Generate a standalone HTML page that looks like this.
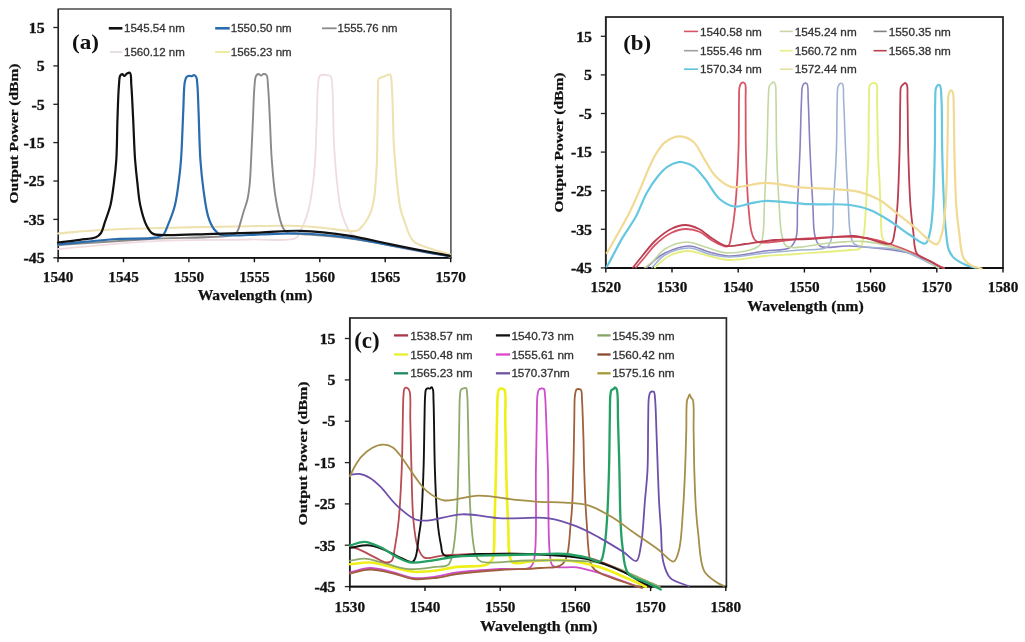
<!DOCTYPE html>
<html><head><meta charset="utf-8"><title>Output power spectra</title>
<style>html,body{margin:0;padding:0;background:#fff;overflow:hidden}svg{display:block;filter:blur(0.35px)}</style>
</head><body>
<svg width="1025" height="642" viewBox="0 0 1025 642">
<rect width="1025" height="642" fill="#fff"/>
<rect x="58.3" y="9.0" width="392.6" height="248.8" fill="none" stroke="#4a4a4a" stroke-width="1.50"/>
<line x1="57.8" y1="257.8" x2="451.4" y2="257.8" stroke="#111" stroke-width="1.8"/>
<line x1="58.3" y1="9.0" x2="58.3" y2="257.8" stroke="#222" stroke-width="1.4"/>
<line x1="53.3" y1="27.5" x2="58.3" y2="27.5" stroke="#222" stroke-width="1.3"/>
<text transform="translate(44.6,32.7) scale(1.130,1)" font-family='"Liberation Serif", serif' font-size="14.0" font-weight="bold" text-anchor="end" fill="#111" stroke="#111" stroke-width="0.35">15</text>
<line x1="53.3" y1="65.9" x2="58.3" y2="65.9" stroke="#222" stroke-width="1.3"/>
<text transform="translate(44.6,71.1) scale(1.130,1)" font-family='"Liberation Serif", serif' font-size="14.0" font-weight="bold" text-anchor="end" fill="#111" stroke="#111" stroke-width="0.35">5</text>
<line x1="53.3" y1="104.3" x2="58.3" y2="104.3" stroke="#222" stroke-width="1.3"/>
<text transform="translate(44.6,109.5) scale(1.130,1)" font-family='"Liberation Serif", serif' font-size="14.0" font-weight="bold" text-anchor="end" fill="#111" stroke="#111" stroke-width="0.35">-5</text>
<line x1="53.3" y1="142.6" x2="58.3" y2="142.6" stroke="#222" stroke-width="1.3"/>
<text transform="translate(44.6,147.8) scale(1.130,1)" font-family='"Liberation Serif", serif' font-size="14.0" font-weight="bold" text-anchor="end" fill="#111" stroke="#111" stroke-width="0.35">-15</text>
<line x1="53.3" y1="181.0" x2="58.3" y2="181.0" stroke="#222" stroke-width="1.3"/>
<text transform="translate(44.6,186.2) scale(1.130,1)" font-family='"Liberation Serif", serif' font-size="14.0" font-weight="bold" text-anchor="end" fill="#111" stroke="#111" stroke-width="0.35">-25</text>
<line x1="53.3" y1="219.4" x2="58.3" y2="219.4" stroke="#222" stroke-width="1.3"/>
<text transform="translate(44.6,224.6) scale(1.130,1)" font-family='"Liberation Serif", serif' font-size="14.0" font-weight="bold" text-anchor="end" fill="#111" stroke="#111" stroke-width="0.35">-35</text>
<line x1="53.3" y1="257.8" x2="58.3" y2="257.8" stroke="#222" stroke-width="1.3"/>
<text transform="translate(44.6,263.0) scale(1.130,1)" font-family='"Liberation Serif", serif' font-size="14.0" font-weight="bold" text-anchor="end" fill="#111" stroke="#111" stroke-width="0.35">-45</text>
<line x1="58.0" y1="257.8" x2="58.0" y2="262.3" stroke="#111" stroke-width="1.4"/>
<text x="58.0" y="281.8" font-family='"Liberation Serif", serif' font-size="15.0" font-weight="bold" text-anchor="middle" fill="#111" textLength="30.5" lengthAdjust="spacingAndGlyphs" stroke="#111" stroke-width="0.25">1540</text>
<line x1="123.5" y1="257.8" x2="123.5" y2="262.3" stroke="#111" stroke-width="1.4"/>
<text x="123.5" y="281.8" font-family='"Liberation Serif", serif' font-size="15.0" font-weight="bold" text-anchor="middle" fill="#111" textLength="30.5" lengthAdjust="spacingAndGlyphs" stroke="#111" stroke-width="0.25">1545</text>
<line x1="188.9" y1="257.8" x2="188.9" y2="262.3" stroke="#111" stroke-width="1.4"/>
<text x="188.9" y="281.8" font-family='"Liberation Serif", serif' font-size="15.0" font-weight="bold" text-anchor="middle" fill="#111" textLength="30.5" lengthAdjust="spacingAndGlyphs" stroke="#111" stroke-width="0.25">1550</text>
<line x1="254.4" y1="257.8" x2="254.4" y2="262.3" stroke="#111" stroke-width="1.4"/>
<text x="254.4" y="281.8" font-family='"Liberation Serif", serif' font-size="15.0" font-weight="bold" text-anchor="middle" fill="#111" textLength="30.5" lengthAdjust="spacingAndGlyphs" stroke="#111" stroke-width="0.25">1555</text>
<line x1="319.8" y1="257.8" x2="319.8" y2="262.3" stroke="#111" stroke-width="1.4"/>
<text x="319.8" y="281.8" font-family='"Liberation Serif", serif' font-size="15.0" font-weight="bold" text-anchor="middle" fill="#111" textLength="30.5" lengthAdjust="spacingAndGlyphs" stroke="#111" stroke-width="0.25">1560</text>
<line x1="385.2" y1="257.8" x2="385.2" y2="262.3" stroke="#111" stroke-width="1.4"/>
<text x="385.2" y="281.8" font-family='"Liberation Serif", serif' font-size="15.0" font-weight="bold" text-anchor="middle" fill="#111" textLength="30.5" lengthAdjust="spacingAndGlyphs" stroke="#111" stroke-width="0.25">1565</text>
<line x1="450.7" y1="257.8" x2="450.7" y2="262.3" stroke="#111" stroke-width="1.4"/>
<text x="450.7" y="281.8" font-family='"Liberation Serif", serif' font-size="15.0" font-weight="bold" text-anchor="middle" fill="#111" textLength="30.5" lengthAdjust="spacingAndGlyphs" stroke="#111" stroke-width="0.25">1570</text>
<path d="M58.0,249.0C88.7,246.4 118.7,242.9 150.0,241.3C182.6,239.6 223.1,240.2 250.0,239.5C268.3,239.0 289.1,242.0 296.0,238.0C298.9,236.3 298.9,233.5 300.3,231.0C301.8,228.2 303.3,225.4 304.6,222.0C306.2,218.0 307.5,213.8 308.8,208.5C310.5,201.3 312.0,191.1 313.1,182.8C314.1,175.0 314.5,168.8 315.1,160.0C315.9,148.1 316.3,131.1 316.8,118.0C317.2,106.6 317.2,93.6 318.0,86.0C318.4,81.7 318.4,77.6 319.6,76.0C320.2,75.2 321.1,75.0 322.0,74.8C322.9,74.6 324.0,74.9 325.0,75.0C326.0,75.1 327.0,75.0 328.0,75.2C329.0,75.4 330.1,75.6 330.8,76.5C332.0,78.1 331.9,81.9 332.3,86.0C333.0,93.5 333.0,108.3 333.3,118.0C333.5,126.0 333.5,132.8 333.8,140.0C334.1,146.8 334.5,153.1 335.0,160.0C335.6,167.4 336.2,175.0 337.1,182.8C338.0,191.1 338.9,201.4 340.5,208.5C341.7,213.8 343.0,217.8 344.8,222.0C346.5,226.0 348.1,230.6 350.8,233.3C353.3,235.7 355.7,236.4 360.0,238.0C368.5,241.2 385.9,245.0 400.0,248.0C415.7,251.3 433.3,253.7 450.0,256.6" stroke="#f0dbe0" stroke-width="1.80" fill="none" stroke-linejoin="round" stroke-linecap="round"/>
<path d="M58.0,233.5C72.0,232.3 85.4,230.9 100.0,230.0C115.9,229.1 130.5,228.8 150.0,228.3C177.6,227.5 224.2,226.6 250.0,226.2C266.3,225.9 277.6,225.5 290.0,225.8C300.7,226.0 310.0,226.6 320.0,227.5C329.9,228.4 343.7,230.7 349.6,231.0C352.1,231.1 353.4,231.3 355.0,231.0C356.3,230.8 357.4,230.5 358.5,229.8C359.8,229.0 360.9,227.7 362.0,226.5C363.2,225.2 364.4,223.6 365.5,222.0C366.6,220.4 367.6,218.7 368.5,217.0C369.4,215.2 370.3,213.5 371.0,211.5C371.8,209.2 372.4,206.6 373.0,204.0C373.6,201.1 374.2,198.2 374.6,195.0C375.1,191.3 375.3,187.5 375.6,182.8C376.1,176.4 376.7,168.8 377.0,160.0C377.4,148.1 377.4,130.6 377.6,118.0C377.7,107.7 377.8,97.2 378.0,90.0C378.2,85.5 377.5,80.9 378.6,79.0C379.2,78.0 380.1,77.9 381.0,77.5C381.9,77.1 383.0,76.9 384.0,76.5C385.1,76.1 386.4,75.3 387.5,75.0C388.4,74.7 389.5,74.0 390.2,74.5C391.6,75.5 391.4,81.2 391.8,86.0C392.5,94.0 392.7,108.3 393.0,118.0C393.3,126.0 393.3,132.8 393.6,140.0C393.9,146.8 394.5,153.1 395.0,160.0C395.6,167.4 396.1,175.0 397.0,182.8C397.9,191.1 398.8,201.4 400.4,208.5C401.6,213.8 402.8,217.2 404.7,222.0C406.9,227.9 408.8,236.6 413.3,241.0C417.5,245.2 424.1,246.3 430.0,248.5C436.3,250.8 443.3,252.5 450.0,254.5" stroke="#eee2b0" stroke-width="2.10" fill="none" stroke-linejoin="round" stroke-linecap="round"/>
<path d="M58.0,245.0C88.7,243.0 120.2,240.7 150.0,239.0C178.1,237.4 221.3,238.2 232.0,235.0C234.8,234.1 235.7,233.6 237.0,232.0C238.6,230.0 239.2,226.5 240.2,223.4C241.4,219.9 242.3,215.8 243.5,212.0C244.7,208.0 246.3,204.3 247.3,200.0C248.4,195.3 249.0,190.7 249.6,185.0C250.4,177.7 250.6,169.4 251.1,160.0C251.7,147.8 252.4,131.0 253.0,118.0C253.5,106.6 253.8,93.6 254.5,86.0C254.9,81.7 254.9,78.0 256.0,76.0C256.6,74.9 257.7,74.0 258.5,74.0C259.3,74.0 260.2,75.6 261.0,75.6C261.8,75.6 262.6,74.1 263.5,74.0C264.4,73.9 265.8,74.1 266.5,75.0C267.9,76.7 267.6,81.4 268.0,86.0C268.8,93.9 269.2,106.6 269.8,118.0C270.5,131.0 270.7,146.2 271.8,160.0C272.8,173.5 273.8,187.9 276.0,200.0C277.8,210.3 280.2,223.0 283.2,228.3C284.7,230.8 285.8,232.0 288.0,233.0C290.9,234.3 294.6,233.5 300.0,234.0C311.0,234.9 333.4,236.3 350.0,238.5C366.7,240.7 383.3,244.0 400.0,247.0C416.7,250.0 433.3,253.3 450.0,256.5" stroke="#8a8a8a" stroke-width="1.90" fill="none" stroke-linejoin="round" stroke-linecap="round"/>
<path d="M58.0,244.5C77.5,242.7 98.9,240.1 116.5,239.0C130.8,238.1 147.8,239.2 155.6,237.7C159.1,237.0 161.0,236.8 163.0,235.0C165.4,232.8 166.5,228.5 168.2,224.4C170.5,218.9 173.2,211.9 175.0,204.9C177.0,197.1 178.0,187.4 179.0,179.5C179.9,172.6 180.4,168.0 181.0,160.0C182.0,147.2 182.6,124.3 183.3,110.0C183.8,99.3 183.7,87.5 184.8,82.0C185.3,79.6 185.6,78.0 186.5,77.0C187.2,76.3 188.1,75.9 189.0,75.8C189.8,75.7 190.7,76.3 191.5,76.2C192.3,76.1 193.2,75.1 194.0,75.2C194.8,75.3 195.7,76.1 196.2,77.0C197.1,78.5 197.0,80.9 197.3,84.0C197.9,89.9 198.1,99.9 198.5,110.0C199.1,124.0 199.4,145.6 200.4,160.0C201.2,171.1 202.1,179.7 203.4,189.3C204.7,198.6 205.9,209.3 208.2,216.6C209.8,221.8 211.8,226.2 214.1,229.3C215.9,231.6 217.4,233.4 220.0,234.5C223.4,235.9 228.3,235.4 233.6,235.5C241.0,235.6 250.3,234.8 260.0,234.5C272.0,234.1 285.9,233.1 300.0,233.5C315.8,234.0 334.5,235.7 350.0,237.8C363.7,239.7 375.7,242.6 388.6,245.0C401.6,247.4 416.4,250.3 427.6,252.3C436.1,253.8 442.5,254.8 450.0,256.0" stroke="#2a6cae" stroke-width="2.20" fill="none" stroke-linejoin="round" stroke-linecap="round"/>
<path d="M58.0,242.5C65.3,241.6 73.3,240.7 80.0,239.8C85.8,239.0 92.3,239.0 96.0,237.3C98.3,236.2 99.6,235.0 101.0,233.0C102.8,230.4 103.4,226.4 104.8,222.4C106.5,217.3 109.0,211.2 110.5,205.0C112.1,198.2 112.9,190.8 113.9,183.4C114.9,175.8 115.7,168.9 116.3,160.0C117.1,148.1 117.0,131.5 117.5,118.5C117.9,107.0 118.2,93.8 118.9,86.0C119.3,81.5 119.1,77.2 120.3,75.5C120.9,74.6 121.8,74.1 122.5,74.2C123.2,74.3 123.6,76.0 124.3,76.0C125.1,76.0 126.0,74.1 127.0,73.6C127.9,73.1 129.3,72.3 130.0,72.8C131.5,73.8 130.9,79.9 131.3,85.0C132.0,93.3 132.5,106.3 133.1,118.0C133.8,131.2 134.2,148.1 135.1,160.0C135.8,168.8 136.5,175.4 137.4,183.0C138.2,190.4 138.7,197.9 140.2,205.0C141.7,211.9 143.8,219.9 146.3,225.0C148.1,228.6 149.7,231.8 152.5,233.5C155.4,235.2 158.4,234.8 163.4,235.1C174.1,235.7 197.5,234.2 214.0,233.8C229.7,233.4 245.2,233.1 260.0,232.6C273.8,232.1 285.9,230.4 300.0,230.8C315.8,231.2 334.5,233.4 350.0,235.8C363.8,237.9 375.7,241.3 388.6,243.9C401.6,246.6 416.4,249.6 427.6,251.7C436.1,253.3 442.5,254.4 450.0,255.8" stroke="#111111" stroke-width="2.20" fill="none" stroke-linejoin="round" stroke-linecap="round"/>
<line x1="108.8" y1="28.3" x2="122.4" y2="28.3" stroke="#111" stroke-width="2.6"/>
<text x="124.0" y="32.4" font-family='"Liberation Sans", sans-serif' font-size="11.6" font-weight="normal" text-anchor="start" fill="#333" textLength="60.9" lengthAdjust="spacingAndGlyphs" stroke="#333" stroke-width="0.30">1545.54 nm</text>
<line x1="215.2" y1="28.3" x2="229.7" y2="28.3" stroke="#2a6cae" stroke-width="2.6"/>
<text x="230.8" y="32.4" font-family='"Liberation Sans", sans-serif' font-size="11.6" font-weight="normal" text-anchor="start" fill="#333" textLength="60.9" lengthAdjust="spacingAndGlyphs" stroke="#333" stroke-width="0.30">1550.50 nm</text>
<line x1="322.0" y1="28.3" x2="336.6" y2="28.3" stroke="#8a8a8a" stroke-width="1.8"/>
<text x="337.6" y="32.4" font-family='"Liberation Sans", sans-serif' font-size="11.6" font-weight="normal" text-anchor="start" fill="#333" textLength="60.0" lengthAdjust="spacingAndGlyphs" stroke="#333" stroke-width="0.30">1555.76 nm</text>
<line x1="109.8" y1="52.0" x2="122.4" y2="52.0" stroke="#e4dcdc" stroke-width="1.8"/>
<text x="124.0" y="56.1" font-family='"Liberation Sans", sans-serif' font-size="11.6" font-weight="normal" text-anchor="start" fill="#333" textLength="60.9" lengthAdjust="spacingAndGlyphs" stroke="#333" stroke-width="0.30">1560.12 nm</text>
<line x1="215.2" y1="52.0" x2="229.7" y2="52.0" stroke="#e8ea9a" stroke-width="1.8"/>
<text x="230.8" y="56.1" font-family='"Liberation Sans", sans-serif' font-size="11.6" font-weight="normal" text-anchor="start" fill="#333" textLength="60.9" lengthAdjust="spacingAndGlyphs" stroke="#333" stroke-width="0.30">1565.23 nm</text>
<text x="72.0" y="49.2" font-family='"Liberation Serif", serif' font-size="21.5" font-weight="bold" text-anchor="start" fill="#111" textLength="27.0" lengthAdjust="spacingAndGlyphs">(a)</text>
<text x="255.0" y="300.2" font-family='"Liberation Serif", serif' font-size="15.5" font-weight="bold" text-anchor="middle" fill="#111" textLength="114.7" lengthAdjust="spacingAndGlyphs" stroke="#111" stroke-width="0.25">Wavelength (nm)</text>
<g transform="translate(17.9,133.5) rotate(-90)">
<text x="0.0" y="0.0" font-family='"Liberation Serif", serif' font-size="13.2" font-weight="bold" text-anchor="middle" fill="#111" textLength="140.0" lengthAdjust="spacingAndGlyphs" stroke="#111" stroke-width="0.25">Output Power (dBm)</text>
</g>
<rect x="605.8" y="17.0" width="397.2" height="251.0" fill="none" stroke="#2a2a2a" stroke-width="1.80"/>
<line x1="605.3" y1="268.0" x2="1003.5" y2="268.0" stroke="#111" stroke-width="1.8"/>
<line x1="605.8" y1="17.0" x2="605.8" y2="268.0" stroke="#222" stroke-width="1.4"/>
<line x1="600.8" y1="36.3" x2="605.8" y2="36.3" stroke="#222" stroke-width="1.3"/>
<text transform="translate(592.0,41.5) scale(1.130,1)" font-family='"Liberation Serif", serif' font-size="14.0" font-weight="bold" text-anchor="end" fill="#111" stroke="#111" stroke-width="0.35">15</text>
<line x1="600.8" y1="74.9" x2="605.8" y2="74.9" stroke="#222" stroke-width="1.3"/>
<text transform="translate(592.0,80.1) scale(1.130,1)" font-family='"Liberation Serif", serif' font-size="14.0" font-weight="bold" text-anchor="end" fill="#111" stroke="#111" stroke-width="0.35">5</text>
<line x1="600.8" y1="113.5" x2="605.8" y2="113.5" stroke="#222" stroke-width="1.3"/>
<text transform="translate(592.0,118.7) scale(1.130,1)" font-family='"Liberation Serif", serif' font-size="14.0" font-weight="bold" text-anchor="end" fill="#111" stroke="#111" stroke-width="0.35">-5</text>
<line x1="600.8" y1="152.1" x2="605.8" y2="152.1" stroke="#222" stroke-width="1.3"/>
<text transform="translate(592.0,157.3) scale(1.130,1)" font-family='"Liberation Serif", serif' font-size="14.0" font-weight="bold" text-anchor="end" fill="#111" stroke="#111" stroke-width="0.35">-15</text>
<line x1="600.8" y1="190.7" x2="605.8" y2="190.7" stroke="#222" stroke-width="1.3"/>
<text transform="translate(592.0,195.9) scale(1.130,1)" font-family='"Liberation Serif", serif' font-size="14.0" font-weight="bold" text-anchor="end" fill="#111" stroke="#111" stroke-width="0.35">-25</text>
<line x1="600.8" y1="229.3" x2="605.8" y2="229.3" stroke="#222" stroke-width="1.3"/>
<text transform="translate(592.0,234.5) scale(1.130,1)" font-family='"Liberation Serif", serif' font-size="14.0" font-weight="bold" text-anchor="end" fill="#111" stroke="#111" stroke-width="0.35">-35</text>
<line x1="600.8" y1="267.9" x2="605.8" y2="267.9" stroke="#222" stroke-width="1.3"/>
<text transform="translate(592.0,273.1) scale(1.130,1)" font-family='"Liberation Serif", serif' font-size="14.0" font-weight="bold" text-anchor="end" fill="#111" stroke="#111" stroke-width="0.35">-45</text>
<line x1="605.8" y1="268.0" x2="605.8" y2="272.5" stroke="#111" stroke-width="1.4"/>
<text x="605.8" y="292.0" font-family='"Liberation Serif", serif' font-size="15.0" font-weight="bold" text-anchor="middle" fill="#111" textLength="30.5" lengthAdjust="spacingAndGlyphs" stroke="#111" stroke-width="0.25">1520</text>
<line x1="672.0" y1="268.0" x2="672.0" y2="272.5" stroke="#111" stroke-width="1.4"/>
<text x="672.0" y="292.0" font-family='"Liberation Serif", serif' font-size="15.0" font-weight="bold" text-anchor="middle" fill="#111" textLength="30.5" lengthAdjust="spacingAndGlyphs" stroke="#111" stroke-width="0.25">1530</text>
<line x1="738.2" y1="268.0" x2="738.2" y2="272.5" stroke="#111" stroke-width="1.4"/>
<text x="738.2" y="292.0" font-family='"Liberation Serif", serif' font-size="15.0" font-weight="bold" text-anchor="middle" fill="#111" textLength="30.5" lengthAdjust="spacingAndGlyphs" stroke="#111" stroke-width="0.25">1540</text>
<line x1="804.4" y1="268.0" x2="804.4" y2="272.5" stroke="#111" stroke-width="1.4"/>
<text x="804.4" y="292.0" font-family='"Liberation Serif", serif' font-size="15.0" font-weight="bold" text-anchor="middle" fill="#111" textLength="30.5" lengthAdjust="spacingAndGlyphs" stroke="#111" stroke-width="0.25">1550</text>
<line x1="870.6" y1="268.0" x2="870.6" y2="272.5" stroke="#111" stroke-width="1.4"/>
<text x="870.6" y="292.0" font-family='"Liberation Serif", serif' font-size="15.0" font-weight="bold" text-anchor="middle" fill="#111" textLength="30.5" lengthAdjust="spacingAndGlyphs" stroke="#111" stroke-width="0.25">1560</text>
<line x1="936.8" y1="268.0" x2="936.8" y2="272.5" stroke="#111" stroke-width="1.4"/>
<text x="936.8" y="292.0" font-family='"Liberation Serif", serif' font-size="15.0" font-weight="bold" text-anchor="middle" fill="#111" textLength="30.5" lengthAdjust="spacingAndGlyphs" stroke="#111" stroke-width="0.25">1570</text>
<line x1="1003.0" y1="268.0" x2="1003.0" y2="272.5" stroke="#111" stroke-width="1.4"/>
<text x="1003.0" y="292.0" font-family='"Liberation Serif", serif' font-size="15.0" font-weight="bold" text-anchor="middle" fill="#111" textLength="30.5" lengthAdjust="spacingAndGlyphs" stroke="#111" stroke-width="0.25">1580</text>
<path d="M655.0,267.5C657.3,265.3 659.4,263.0 662.0,261.0C664.7,258.8 667.3,256.6 671.0,255.0C675.8,252.9 682.9,250.9 689.0,251.0C695.5,251.1 702.3,254.5 709.0,256.0C715.6,257.5 721.3,259.7 729.0,260.0C739.2,260.4 753.1,257.1 765.0,256.0C776.7,255.0 787.3,254.6 800.0,253.7C815.2,252.6 839.7,251.2 850.0,250.0C854.6,249.5 857.7,250.5 860.0,248.5C862.7,246.1 862.8,239.8 863.7,234.7C864.8,228.8 865.0,222.5 865.5,215.0C866.2,205.0 866.7,190.0 867.2,180.0C867.6,172.4 868.0,168.5 868.3,160.0C868.8,145.4 868.6,113.0 869.0,100.0C869.2,93.7 868.6,88.7 869.6,86.0C870.1,84.7 870.7,84.0 871.5,83.5C872.2,83.1 873.2,82.9 874.0,83.0C874.8,83.1 875.9,83.1 876.5,84.0C878.0,86.1 876.8,93.0 877.0,100.0C877.4,113.6 877.7,145.4 878.3,160.0C878.6,168.5 879.1,172.4 879.5,180.0C880.0,190.0 880.2,204.6 880.8,215.0C881.3,223.4 880.8,232.7 882.4,237.8C883.3,240.7 883.7,242.1 886.0,244.0C890.9,248.1 906.9,250.5 916.0,254.7C924.2,258.5 931.0,263.4 938.5,267.8" stroke="#e6ee80" stroke-width="1.90" fill="none" stroke-linejoin="round" stroke-linecap="round"/>
<path d="M647.0,267.5C649.7,265.0 652.1,262.4 655.0,260.0C658.1,257.5 660.7,255.0 665.0,253.0C671.1,250.1 681.4,246.0 689.0,246.0C696.0,246.0 702.3,250.3 709.0,252.0C715.6,253.7 721.3,255.8 729.0,256.0C739.2,256.3 754.1,252.5 765.0,251.0C774.1,249.7 784.9,250.8 790.0,247.5C793.4,245.3 794.6,242.3 796.0,238.0C798.3,230.7 796.9,218.1 797.5,206.0C798.2,189.9 799.3,168.1 800.0,150.0C800.6,132.9 800.9,111.5 801.5,100.0C801.8,93.9 801.6,88.8 802.6,86.0C803.1,84.6 803.7,83.5 804.5,83.2C805.2,82.9 806.4,83.0 807.0,83.8C808.6,85.7 807.8,93.1 808.2,100.0C808.9,112.1 809.2,132.9 810.0,150.0C810.8,168.1 811.9,190.2 812.9,206.0C813.6,217.6 813.0,228.8 815.0,236.0C816.3,240.5 816.8,244.2 820.3,246.3C825.8,249.6 838.2,245.3 850.0,246.0C867.7,247.1 900.1,249.6 916.0,255.0C925.9,258.3 931.0,263.5 938.5,267.8" stroke="#8c80c0" stroke-width="1.60" fill="none" stroke-linejoin="round" stroke-linecap="round"/>
<path d="M652.0,267.5C656.3,263.3 659.5,258.2 665.0,255.0C671.4,251.3 681.4,248.0 689.0,248.0C696.0,248.0 702.3,252.5 709.0,254.0C715.6,255.5 721.3,256.9 729.0,257.0C739.2,257.2 753.1,254.2 765.0,253.0C776.7,251.8 789.1,251.0 800.0,250.0C809.6,249.1 821.8,250.9 826.9,247.2C830.4,244.7 830.8,240.8 832.0,236.0C833.8,228.5 832.8,217.5 833.4,206.0C834.2,190.2 835.8,168.1 836.4,150.0C837.0,132.9 836.8,111.3 837.2,100.0C837.4,94.3 837.1,89.9 838.0,87.0C838.5,85.4 839.1,83.9 840.0,83.5C840.7,83.2 841.9,83.3 842.5,84.0C844.1,85.8 843.2,93.2 843.6,100.0C844.3,112.0 844.8,132.9 845.6,150.0C846.4,168.1 847.4,190.5 848.4,206.0C849.1,216.9 848.8,227.0 850.5,234.0C851.6,238.4 851.4,241.8 854.9,244.4C861.9,249.7 885.9,246.0 900.0,250.0C913.7,253.9 925.7,261.9 938.5,267.8" stroke="#9fb4d2" stroke-width="1.60" fill="none" stroke-linejoin="round" stroke-linecap="round"/>
<path d="M645.0,267.5C647.3,265.7 649.4,264.3 652.0,262.0C655.8,258.7 659.6,252.3 665.0,249.0C671.0,245.3 680.0,242.1 687.0,242.0C693.3,241.9 698.6,245.3 705.0,247.0C712.4,249.0 720.5,253.0 729.0,253.0C738.6,253.0 754.6,250.1 759.6,245.3C762.7,242.4 762.2,238.7 763.0,234.0C764.2,226.8 763.8,216.9 764.3,206.0C765.0,190.5 766.3,168.1 767.0,150.0C767.6,132.9 767.7,111.5 768.3,100.0C768.6,93.9 768.3,88.7 769.4,86.0C769.9,84.7 770.8,84.2 771.5,83.5C772.1,82.9 772.9,81.9 773.5,82.0C774.1,82.1 774.8,82.9 775.2,84.0C776.3,86.7 775.8,93.2 776.0,100.0C776.4,112.0 776.1,132.9 776.6,150.0C777.1,168.1 778.1,190.2 779.2,206.0C780.0,217.6 780.1,228.7 782.0,236.0C783.2,240.5 783.2,244.2 786.7,246.3C793.6,250.4 816.3,243.8 830.0,243.0C842.3,242.3 852.3,240.3 865.0,241.6C880.5,243.2 902.7,248.7 916.0,254.2C925.4,258.1 931.0,263.3 938.5,267.8" stroke="#c2d8a0" stroke-width="1.60" fill="none" stroke-linejoin="round" stroke-linecap="round"/>
<path d="M636.0,267.5C639.0,264.0 641.9,260.6 645.0,257.0C648.3,253.1 651.0,248.8 655.0,245.0C659.5,240.7 665.5,235.7 671.0,233.0C675.9,230.6 681.1,229.1 686.0,229.0C690.7,228.9 695.6,230.1 700.0,232.0C704.6,234.0 708.4,238.6 713.0,241.0C717.6,243.4 724.7,247.8 727.8,246.3C730.6,244.9 730.4,239.0 731.5,234.0C733.1,226.6 734.2,217.0 735.3,206.0C736.8,190.6 737.9,168.1 738.5,150.0C739.1,132.9 738.7,111.3 739.0,100.0C739.2,94.3 738.8,90.0 739.6,87.0C740.0,85.2 740.7,83.7 741.5,83.0C742.1,82.5 742.9,82.4 743.5,82.5C744.1,82.7 744.8,83.1 745.2,84.0C746.3,86.4 745.5,93.2 745.6,100.0C745.8,112.0 745.5,132.9 745.9,150.0C746.4,168.1 747.0,190.6 748.4,206.0C749.4,217.0 749.9,227.8 752.1,234.0C753.4,237.5 753.7,240.0 756.8,241.6C763.7,245.1 785.3,239.6 800.0,238.8C815.2,238.0 834.3,236.8 846.5,236.9C854.4,237.0 859.2,237.0 866.0,238.0C873.6,239.2 881.8,241.4 890.0,244.0C899.1,246.9 909.3,251.0 918.0,255.0C926.0,258.7 936.1,265.0 940.4,266.8C942.1,267.5 942.8,267.6 944.0,268.0" stroke="#d85566" stroke-width="1.80" fill="none" stroke-linejoin="round" stroke-linecap="round"/>
<path d="M633.0,267.5C636.3,263.3 639.5,259.3 643.0,255.0C646.8,250.4 650.5,245.3 655.0,241.0C659.7,236.6 665.6,231.7 671.0,229.0C675.6,226.7 680.3,225.0 685.0,225.0C689.7,225.0 694.5,226.8 699.0,229.0C703.9,231.4 708.2,236.1 713.0,239.0C717.6,241.7 721.9,245.1 727.0,246.0C732.5,247.0 738.2,244.8 745.0,244.0C753.7,242.9 764.7,240.8 775.0,240.0C786.0,239.1 796.9,239.6 809.0,239.0C823.0,238.3 843.8,235.5 854.0,236.0C859.3,236.3 861.3,237.1 866.0,238.0C872.8,239.3 886.3,246.0 890.8,243.5C893.9,241.8 893.6,236.8 894.6,232.2C896.1,225.3 896.6,216.4 897.4,206.0C898.5,190.9 899.1,168.1 899.6,150.0C900.1,132.9 899.9,111.3 900.3,100.0C900.5,94.3 900.0,89.6 901.0,87.0C901.5,85.7 902.3,85.2 903.0,84.5C903.6,83.9 904.4,83.0 905.0,83.0C905.6,83.0 906.3,83.6 906.8,84.5C908.0,86.9 907.3,93.4 907.5,100.0C907.9,111.9 907.7,132.9 908.2,150.0C908.7,168.1 909.4,190.9 910.5,206.0C911.3,216.3 912.2,223.7 913.3,232.0C914.4,239.6 913.6,248.8 917.0,253.7C919.8,257.7 925.9,258.7 930.0,261.0C933.7,263.0 937.8,265.6 940.4,266.8C941.9,267.5 942.8,267.7 944.0,268.2" stroke="#bb3e50" stroke-width="1.80" fill="none" stroke-linejoin="round" stroke-linecap="round"/>
<path d="M606.8,266.5C607.3,265.7 607.6,265.3 608.4,264.0C610.8,259.9 617.7,246.0 622.4,237.9C626.7,230.5 631.5,224.6 635.5,217.3C639.7,209.7 642.7,200.2 646.7,193.0C650.2,186.7 654.1,180.8 657.9,176.2C661.0,172.4 663.8,169.2 667.3,166.8C670.7,164.5 675.6,162.6 678.5,162.1C680.3,161.8 681.2,161.9 683.0,162.3C685.8,162.9 690.2,164.1 693.5,166.4C697.5,169.1 700.8,173.8 704.7,178.5C709.5,184.3 714.0,194.2 719.6,199.0C724.2,202.9 729.5,205.8 734.6,206.5C739.5,207.2 744.5,204.6 749.5,203.7C754.6,202.8 758.5,201.3 765.0,201.0C775.9,200.5 794.6,203.5 809.0,204.2C822.9,204.8 838.8,203.5 850.0,205.0C857.9,206.1 863.5,207.4 870.0,210.0C876.8,212.7 883.4,216.9 890.0,221.0C896.8,225.2 903.7,231.1 910.0,235.0C915.4,238.4 922.0,244.7 925.4,243.5C928.2,242.5 928.9,236.7 930.1,232.0C931.8,225.2 932.2,216.3 932.9,206.0C934.0,190.9 934.4,168.1 934.8,150.0C935.2,132.9 934.8,111.0 935.2,100.0C935.4,94.6 935.1,90.6 936.0,88.0C936.5,86.6 937.2,85.3 938.0,85.0C938.6,84.8 939.5,85.0 940.0,85.6C941.4,87.3 941.1,93.7 941.5,100.0C942.2,111.6 941.8,132.9 942.2,150.0C942.6,168.1 943.3,190.9 944.1,206.0C944.7,216.3 945.1,224.1 946.0,232.0C946.7,238.6 947.1,245.4 948.8,250.0C950.0,253.2 951.3,255.3 953.5,257.5C956.2,260.2 960.9,262.7 964.7,264.4C968.3,266.0 972.2,266.7 975.9,267.8" stroke="#66c7e0" stroke-width="2.20" fill="none" stroke-linejoin="round" stroke-linecap="round"/>
<path d="M606.8,253.0C607.0,252.6 607.1,252.5 607.5,251.9C609.0,249.4 615.0,238.8 618.7,232.2C622.5,225.5 626.4,218.6 629.9,211.7C633.3,204.9 636.2,198.1 639.3,191.1C642.5,183.8 645.6,175.4 648.6,168.7C651.1,163.2 653.2,158.3 656.1,153.7C658.8,149.4 661.4,144.9 665.4,142.0C669.5,139.0 675.6,136.3 680.4,136.4C684.9,136.5 689.7,138.8 693.5,142.0C698.1,145.9 700.9,154.0 704.7,159.8C708.4,165.5 711.4,172.0 715.9,176.6C720.2,180.9 726.0,185.5 730.8,186.9C734.6,188.0 737.6,186.9 742.0,186.5C748.3,185.9 756.5,182.9 765.0,182.8C775.4,182.6 788.1,186.3 800.0,187.4C812.1,188.5 826.1,188.4 837.0,189.3C845.6,190.0 852.8,190.3 860.0,192.1C866.7,193.8 872.7,196.1 878.7,199.5C885.2,203.1 891.2,208.8 897.4,213.6C903.7,218.5 909.7,223.5 916.1,228.5C922.8,233.7 932.2,245.5 936.6,244.4C939.7,243.6 940.8,237.2 942.2,232.2C944.2,225.2 944.7,216.4 945.5,206.0C946.7,190.9 947.0,167.1 947.4,150.0C947.8,135.5 947.8,120.1 948.0,110.0C948.1,103.8 947.8,98.4 948.5,95.0C948.9,93.2 949.3,91.7 950.0,91.0C950.4,90.6 951.1,90.3 951.5,90.5C952.1,90.7 952.6,91.7 953.0,93.0C953.9,96.1 953.6,103.1 953.8,110.0C954.1,120.5 954.0,135.5 954.4,150.0C954.8,167.1 955.2,190.9 956.3,206.0C957.0,216.3 957.9,223.3 959.1,232.0C960.3,240.8 960.5,252.6 963.7,258.4C965.8,262.2 969.0,264.2 972.1,265.9C975.0,267.5 978.4,267.6 981.5,268.5" stroke="#f0da94" stroke-width="2.20" fill="none" stroke-linejoin="round" stroke-linecap="round"/>
<line x1="684.0" y1="31.4" x2="698.1" y2="31.4" stroke="#d85566" stroke-width="1.6"/>
<text x="699.9" y="35.5" font-family='"Liberation Sans", sans-serif' font-size="11.6" font-weight="normal" text-anchor="start" fill="#333" textLength="62.0" lengthAdjust="spacingAndGlyphs" stroke="#333" stroke-width="0.30">1540.58 nm</text>
<line x1="779.8" y1="31.4" x2="792.9" y2="31.4" stroke="#c8d6a8" stroke-width="1.6"/>
<text x="794.7" y="35.5" font-family='"Liberation Sans", sans-serif' font-size="11.6" font-weight="normal" text-anchor="start" fill="#333" textLength="62.0" lengthAdjust="spacingAndGlyphs" stroke="#333" stroke-width="0.30">1545.24 nm</text>
<line x1="873.6" y1="31.4" x2="886.7" y2="31.4" stroke="#808080" stroke-width="1.6"/>
<text x="888.8" y="35.5" font-family='"Liberation Sans", sans-serif' font-size="11.6" font-weight="normal" text-anchor="start" fill="#333" textLength="62.0" lengthAdjust="spacingAndGlyphs" stroke="#333" stroke-width="0.30">1550.35 nm</text>
<line x1="684.0" y1="50.7" x2="698.1" y2="50.7" stroke="#a0a0a0" stroke-width="1.6"/>
<text x="699.9" y="54.8" font-family='"Liberation Sans", sans-serif' font-size="11.6" font-weight="normal" text-anchor="start" fill="#333" textLength="62.0" lengthAdjust="spacingAndGlyphs" stroke="#333" stroke-width="0.30">1555.46 nm</text>
<line x1="779.8" y1="50.7" x2="792.9" y2="50.7" stroke="#e8ee80" stroke-width="1.6"/>
<text x="794.7" y="54.8" font-family='"Liberation Sans", sans-serif' font-size="11.6" font-weight="normal" text-anchor="start" fill="#333" textLength="62.0" lengthAdjust="spacingAndGlyphs" stroke="#333" stroke-width="0.30">1560.72 nm</text>
<line x1="873.6" y1="50.7" x2="886.7" y2="50.7" stroke="#bb3e50" stroke-width="1.6"/>
<text x="888.8" y="54.8" font-family='"Liberation Sans", sans-serif' font-size="11.6" font-weight="normal" text-anchor="start" fill="#333" textLength="62.0" lengthAdjust="spacingAndGlyphs" stroke="#333" stroke-width="0.30">1565.38 nm</text>
<line x1="684.0" y1="69.2" x2="698.1" y2="69.2" stroke="#5cc4de" stroke-width="1.6"/>
<text x="699.9" y="73.3" font-family='"Liberation Sans", sans-serif' font-size="11.6" font-weight="normal" text-anchor="start" fill="#333" textLength="62.0" lengthAdjust="spacingAndGlyphs" stroke="#333" stroke-width="0.30">1570.34 nm</text>
<line x1="779.8" y1="69.2" x2="792.9" y2="69.2" stroke="#e4e0a0" stroke-width="1.6"/>
<text x="794.7" y="73.3" font-family='"Liberation Sans", sans-serif' font-size="11.6" font-weight="normal" text-anchor="start" fill="#333" textLength="62.0" lengthAdjust="spacingAndGlyphs" stroke="#333" stroke-width="0.30">1572.44 nm</text>
<text x="623.2" y="50.0" font-family='"Liberation Serif", serif' font-size="21.5" font-weight="bold" text-anchor="start" fill="#111" textLength="28.0" lengthAdjust="spacingAndGlyphs">(b)</text>
<text x="805.5" y="311.2" font-family='"Liberation Serif", serif' font-size="15.5" font-weight="bold" text-anchor="middle" fill="#111" textLength="116.5" lengthAdjust="spacingAndGlyphs" stroke="#111" stroke-width="0.25">Wavelength (nm)</text>
<g transform="translate(563.2,142.5) rotate(-90)">
<text x="0.0" y="0.0" font-family='"Liberation Serif", serif' font-size="13.2" font-weight="bold" text-anchor="middle" fill="#111" textLength="140.0" lengthAdjust="spacingAndGlyphs" stroke="#111" stroke-width="0.25">Output Power (dBm)</text>
</g>
<rect x="349.8" y="318.0" width="376.6" height="268.6" fill="none" stroke="#2a2a2a" stroke-width="1.70"/>
<line x1="349.3" y1="586.6" x2="726.9" y2="586.6" stroke="#111" stroke-width="1.8"/>
<line x1="349.8" y1="318.0" x2="349.8" y2="586.6" stroke="#222" stroke-width="1.4"/>
<line x1="344.8" y1="338.5" x2="349.8" y2="338.5" stroke="#222" stroke-width="1.3"/>
<text transform="translate(335.5,343.7) scale(1.130,1)" font-family='"Liberation Serif", serif' font-size="14.0" font-weight="bold" text-anchor="end" fill="#111" stroke="#111" stroke-width="0.35">15</text>
<line x1="344.8" y1="379.9" x2="349.8" y2="379.9" stroke="#222" stroke-width="1.3"/>
<text transform="translate(335.5,385.1) scale(1.130,1)" font-family='"Liberation Serif", serif' font-size="14.0" font-weight="bold" text-anchor="end" fill="#111" stroke="#111" stroke-width="0.35">5</text>
<line x1="344.8" y1="421.2" x2="349.8" y2="421.2" stroke="#222" stroke-width="1.3"/>
<text transform="translate(335.5,426.4) scale(1.130,1)" font-family='"Liberation Serif", serif' font-size="14.0" font-weight="bold" text-anchor="end" fill="#111" stroke="#111" stroke-width="0.35">-5</text>
<line x1="344.8" y1="462.6" x2="349.8" y2="462.6" stroke="#222" stroke-width="1.3"/>
<text transform="translate(335.5,467.8) scale(1.130,1)" font-family='"Liberation Serif", serif' font-size="14.0" font-weight="bold" text-anchor="end" fill="#111" stroke="#111" stroke-width="0.35">-15</text>
<line x1="344.8" y1="503.9" x2="349.8" y2="503.9" stroke="#222" stroke-width="1.3"/>
<text transform="translate(335.5,509.1) scale(1.130,1)" font-family='"Liberation Serif", serif' font-size="14.0" font-weight="bold" text-anchor="end" fill="#111" stroke="#111" stroke-width="0.35">-25</text>
<line x1="344.8" y1="545.2" x2="349.8" y2="545.2" stroke="#222" stroke-width="1.3"/>
<text transform="translate(335.5,550.5) scale(1.130,1)" font-family='"Liberation Serif", serif' font-size="14.0" font-weight="bold" text-anchor="end" fill="#111" stroke="#111" stroke-width="0.35">-35</text>
<line x1="344.8" y1="586.6" x2="349.8" y2="586.6" stroke="#222" stroke-width="1.3"/>
<text transform="translate(335.5,591.8) scale(1.130,1)" font-family='"Liberation Serif", serif' font-size="14.0" font-weight="bold" text-anchor="end" fill="#111" stroke="#111" stroke-width="0.35">-45</text>
<line x1="349.8" y1="586.6" x2="349.8" y2="591.1" stroke="#111" stroke-width="1.4"/>
<text x="349.8" y="611.6" font-family='"Liberation Serif", serif' font-size="15.0" font-weight="bold" text-anchor="middle" fill="#111" textLength="30.5" lengthAdjust="spacingAndGlyphs" stroke="#111" stroke-width="0.25">1530</text>
<line x1="425.0" y1="586.6" x2="425.0" y2="591.1" stroke="#111" stroke-width="1.4"/>
<text x="425.0" y="611.6" font-family='"Liberation Serif", serif' font-size="15.0" font-weight="bold" text-anchor="middle" fill="#111" textLength="30.5" lengthAdjust="spacingAndGlyphs" stroke="#111" stroke-width="0.25">1540</text>
<line x1="500.2" y1="586.6" x2="500.2" y2="591.1" stroke="#111" stroke-width="1.4"/>
<text x="500.2" y="611.6" font-family='"Liberation Serif", serif' font-size="15.0" font-weight="bold" text-anchor="middle" fill="#111" textLength="30.5" lengthAdjust="spacingAndGlyphs" stroke="#111" stroke-width="0.25">1550</text>
<line x1="575.4" y1="586.6" x2="575.4" y2="591.1" stroke="#111" stroke-width="1.4"/>
<text x="575.4" y="611.6" font-family='"Liberation Serif", serif' font-size="15.0" font-weight="bold" text-anchor="middle" fill="#111" textLength="30.5" lengthAdjust="spacingAndGlyphs" stroke="#111" stroke-width="0.25">1560</text>
<line x1="650.6" y1="586.6" x2="650.6" y2="591.1" stroke="#111" stroke-width="1.4"/>
<text x="650.6" y="611.6" font-family='"Liberation Serif", serif' font-size="15.0" font-weight="bold" text-anchor="middle" fill="#111" textLength="30.5" lengthAdjust="spacingAndGlyphs" stroke="#111" stroke-width="0.25">1570</text>
<line x1="725.8" y1="586.6" x2="725.8" y2="591.1" stroke="#111" stroke-width="1.4"/>
<text x="725.8" y="611.6" font-family='"Liberation Serif", serif' font-size="15.0" font-weight="bold" text-anchor="middle" fill="#111" textLength="30.5" lengthAdjust="spacingAndGlyphs" stroke="#111" stroke-width="0.25">1580</text>
<path d="M350.0,572.3C356.6,570.9 363.0,568.1 369.8,568.0C376.9,567.9 384.4,570.2 391.6,571.8C398.9,573.4 406.1,577.0 413.4,577.8C420.6,578.6 428.0,577.6 435.2,576.7C442.5,575.8 448.5,573.7 457.0,572.5C468.9,570.9 486.9,569.9 500.0,569.0C510.9,568.3 524.9,570.7 530.0,567.5C532.7,565.8 532.9,564.1 534.0,560.0C537.5,546.7 535.4,495.6 535.9,470.0C536.3,450.9 536.5,433.8 536.8,420.0C537.0,410.2 536.7,400.3 537.5,395.0C537.9,392.5 538.1,390.5 539.0,389.5C539.6,388.8 540.7,388.6 541.5,388.5C542.3,388.4 543.4,388.4 544.0,389.0C544.9,389.9 544.7,392.3 545.0,395.0C545.6,400.5 545.8,410.2 546.2,420.0C546.8,433.8 547.4,451.1 548.0,470.0C548.7,494.6 547.8,540.1 550.0,555.0C550.8,560.5 550.2,563.7 553.0,566.0C557.1,569.3 568.9,566.1 576.7,567.3C584.6,568.5 592.4,570.9 600.1,573.2C608.0,575.6 616.4,578.9 623.5,581.4C629.4,583.5 634.4,585.3 639.8,587.2" stroke="#d04ccc" stroke-width="1.80" fill="none" stroke-linejoin="round" stroke-linecap="round"/>
<path d="M350.0,573.5C356.6,572.2 363.0,569.6 369.8,569.5C376.9,569.4 384.4,571.4 391.6,573.0C398.9,574.6 406.1,578.2 413.4,579.0C420.6,579.8 428.0,578.8 435.2,578.0C442.5,577.2 448.5,575.2 457.0,574.0C468.9,572.4 485.9,571.0 500.0,570.0C513.6,569.0 528.6,569.3 540.0,568.0C548.7,567.0 557.5,569.0 562.7,563.8C570.0,556.6 569.2,535.1 571.0,520.0C572.9,503.9 572.7,486.7 573.3,470.0C573.8,453.3 574.0,433.8 574.3,420.0C574.5,410.2 574.2,400.3 575.0,395.0C575.4,392.5 575.6,390.4 576.5,389.5C577.0,389.0 577.8,389.0 578.5,389.0C579.3,389.1 580.4,389.2 581.0,390.0C582.2,391.6 581.7,395.5 582.0,400.0C582.6,408.9 583.1,427.6 583.5,440.0C583.8,450.7 583.8,458.7 584.2,470.0C584.7,484.6 585.2,503.7 586.5,520.0C587.8,535.7 587.5,558.0 591.9,566.2C594.0,570.1 596.4,570.9 600.0,573.0C605.6,576.3 616.1,579.4 623.5,582.0C630.0,584.3 635.8,586.0 642.0,588.0" stroke="#a0603e" stroke-width="1.80" fill="none" stroke-linejoin="round" stroke-linecap="round"/>
<path d="M350.0,564.2C356.6,563.6 363.1,562.1 369.8,562.5C376.9,562.9 384.3,565.4 391.6,566.9C398.9,568.5 406.1,571.2 413.4,571.8C420.6,572.4 428.0,571.5 435.2,570.7C442.5,569.9 449.2,567.8 457.0,566.9C465.8,565.8 479.6,567.2 485.5,565.0C488.7,563.8 490.4,563.0 492.0,560.0C495.6,553.3 493.8,534.1 494.5,520.0C495.2,504.3 495.6,486.7 496.0,470.0C496.4,453.3 496.6,433.8 497.0,420.0C497.3,410.2 497.1,400.3 497.8,395.0C498.1,392.5 498.1,390.5 499.0,389.5C499.7,388.7 501.1,388.4 502.0,388.5C502.9,388.6 503.8,388.9 504.5,390.0C506.6,393.6 505.0,408.7 505.3,420.0C505.6,434.5 505.8,453.3 506.2,470.0C506.7,486.7 507.0,504.1 508.0,520.0C509.0,534.6 507.3,557.2 512.0,562.0C514.0,564.1 517.2,563.0 520.0,563.0C523.2,563.0 525.6,561.9 530.0,561.5C538.1,560.8 553.4,559.4 565.0,560.3C576.7,561.3 589.7,564.2 600.1,567.3C608.8,569.9 616.2,573.6 623.5,576.7C630.1,579.5 638.2,583.0 642.1,584.9C643.9,585.8 644.7,586.3 646.0,587.0" stroke="#eef018" stroke-width="2.60" fill="none" stroke-linejoin="round" stroke-linecap="round"/>
<path d="M350.0,560.9C354.8,560.2 359.5,558.6 364.4,558.7C369.7,558.8 374.6,560.6 380.7,562.0C388.7,563.8 398.8,568.3 408.0,569.1C417.0,569.9 427.8,567.8 435.2,566.9C440.4,566.3 445.4,567.1 448.3,564.7C451.2,562.3 451.5,557.8 452.7,552.7C454.6,544.6 455.6,532.1 456.5,520.0C457.6,505.1 457.8,486.7 458.3,470.0C458.8,453.3 459.0,433.8 459.3,420.0C459.5,410.2 459.4,400.3 460.0,395.0C460.3,392.5 460.2,390.5 461.0,389.5C461.5,388.8 462.2,388.7 463.0,388.5C463.9,388.2 465.3,387.5 466.0,388.0C467.1,388.8 466.9,391.9 467.2,395.0C467.8,400.8 467.7,410.2 468.0,420.0C468.4,433.8 468.5,453.3 469.0,470.0C469.5,486.7 469.6,504.7 471.0,520.0C472.2,533.0 473.0,549.5 476.0,556.0C477.4,558.9 478.0,560.2 480.9,561.5C488.5,564.8 512.2,560.4 530.0,560.5C551.3,560.7 580.2,559.0 600.0,563.0C615.5,566.1 629.0,573.5 640.0,578.0C647.9,581.2 653.3,584.0 660.0,587.0" stroke="#8eaa6a" stroke-width="1.80" fill="none" stroke-linejoin="round" stroke-linecap="round"/>
<path d="M350.0,546.7C353.0,547.6 355.5,548.1 358.9,549.4C363.6,551.3 370.4,555.3 375.3,557.6C379.3,559.5 383.2,562.3 386.2,562.5C388.3,562.6 390.2,562.3 391.6,560.9C393.8,558.6 393.9,552.6 394.9,547.3C396.3,539.8 397.7,530.5 398.7,520.0C400.1,505.9 401.0,486.7 401.7,470.0C402.4,453.3 402.5,433.8 402.8,420.0C403.0,410.2 403.0,400.6 403.5,395.0C403.8,392.1 403.6,389.6 404.5,388.5C405.1,387.8 406.2,387.6 407.0,387.8C407.9,388.1 408.9,389.2 409.5,391.0C411.2,395.7 410.0,409.0 410.3,420.0C410.7,434.4 411.0,453.3 411.5,470.0C412.0,486.7 412.0,505.9 413.4,520.0C414.4,530.5 415.3,540.6 417.8,547.3C419.5,551.8 420.8,555.9 424.3,557.6C428.7,559.7 436.4,556.0 444.0,555.4C454.2,554.6 467.0,554.3 480.0,554.0C495.3,553.7 512.7,553.4 530.0,554.0C548.7,554.6 571.7,554.2 588.4,558.0C601.9,561.1 613.8,567.3 623.5,572.0C630.8,575.5 636.9,579.7 642.1,582.5C645.7,584.4 648.4,585.6 651.5,587.2" stroke="#b84c52" stroke-width="1.80" fill="none" stroke-linejoin="round" stroke-linecap="round"/>
<path d="M350.0,547.8C355.9,547.0 362.2,545.1 367.6,545.3C372.3,545.5 376.2,546.8 380.7,548.4C385.9,550.2 391.7,553.7 397.1,556.0C402.2,558.2 409.3,562.9 412.3,562.0C414.1,561.4 414.7,559.5 415.6,557.1C417.4,552.5 418.0,541.7 419.0,535.0C419.8,529.5 420.5,526.5 421.1,520.0C422.2,508.2 422.9,486.7 423.5,470.0C424.1,453.3 424.2,433.8 424.5,420.0C424.7,410.2 424.7,400.3 425.2,395.0C425.4,392.5 425.3,390.6 426.0,389.5C426.5,388.8 427.3,388.4 428.0,388.3C428.6,388.2 429.4,388.8 430.0,388.6C430.6,388.4 431.0,387.3 431.5,387.3C432.0,387.3 432.5,388.1 432.8,389.0C433.6,391.0 433.3,394.7 433.5,400.0C434.1,413.2 434.2,448.6 434.9,470.0C435.5,488.1 436.1,506.2 437.4,520.0C438.3,529.8 439.6,538.6 441.0,545.0C441.9,549.1 441.1,552.8 444.0,554.9C449.4,558.8 467.0,554.2 480.0,554.0C495.3,553.8 512.7,553.2 530.0,554.0C548.7,554.8 571.6,555.5 588.4,559.2C601.8,562.2 613.8,567.5 623.5,572.0C630.8,575.4 636.9,579.7 642.1,582.5C645.7,584.4 648.4,585.6 651.5,587.2" stroke="#111111" stroke-width="1.90" fill="none" stroke-linejoin="round" stroke-linecap="round"/>
<path d="M350.0,545.6C354.8,544.3 359.5,541.6 364.4,541.8C369.7,542.0 375.4,544.9 380.7,547.3C386.3,549.9 391.7,554.5 397.1,557.1C401.9,559.4 406.1,561.8 411.2,562.5C416.9,563.3 423.0,561.7 429.8,560.9C438.0,559.9 448.4,557.3 457.0,556.5C464.6,555.8 469.8,556.0 478.5,555.7C492.0,555.3 514.5,554.8 530.0,554.5C542.8,554.3 554.5,553.2 565.0,554.0C573.6,554.7 582.0,556.5 588.4,558.0C593.0,559.1 597.5,562.8 600.1,561.5C602.7,560.2 603.0,554.8 604.0,550.0C605.6,542.4 606.2,531.3 607.0,520.0C608.0,505.5 608.5,486.7 609.0,470.0C609.5,453.3 609.5,433.8 609.8,420.0C610.0,410.2 609.8,400.1 610.4,395.0C610.7,392.7 610.7,391.0 611.5,390.0C612.0,389.4 612.9,389.4 613.5,389.0C614.1,388.6 614.5,387.5 615.0,387.5C615.6,387.5 616.3,388.3 616.8,389.5C618.4,393.6 617.6,408.6 618.0,420.0C618.5,434.6 619.0,453.3 619.4,470.0C619.8,486.7 619.9,506.2 620.5,520.0C621.0,529.8 621.1,536.5 622.3,545.1C623.6,554.2 623.3,566.9 628.1,573.2C632.2,578.6 641.0,579.6 646.8,582.5C651.8,585.0 656.1,587.2 660.8,589.5" stroke="#24a064" stroke-width="2.30" fill="none" stroke-linejoin="round" stroke-linecap="round"/>
<path d="M350.0,475.0C353.1,474.6 356.1,473.5 359.3,473.9C362.8,474.3 366.6,476.0 370.0,478.0C373.7,480.2 376.7,483.1 380.4,486.7C385.4,491.6 390.8,499.9 396.7,505.4C402.5,510.8 409.6,517.2 415.4,519.5C419.5,521.1 422.2,520.8 427.1,520.6C435.7,520.2 450.1,514.8 462.2,514.3C475.0,513.8 488.1,517.6 501.9,518.3C516.8,519.1 535.2,516.4 548.7,518.3C559.3,519.8 567.9,523.0 576.7,526.4C585.0,529.6 592.4,533.9 600.1,538.1C608.0,542.4 616.9,547.9 623.5,552.1C628.5,555.3 633.4,562.0 636.3,561.0C639.3,559.9 639.7,551.8 641.0,545.0C643.1,533.9 643.8,513.5 645.0,500.0C645.9,489.0 647.0,481.3 647.5,470.0C648.2,455.5 647.9,433.3 648.2,420.0C648.4,411.2 648.2,402.7 648.8,398.0C649.1,395.7 649.3,394.1 650.0,393.0C650.5,392.2 651.3,391.6 652.0,391.5C652.6,391.4 653.5,391.5 654.0,392.0C654.8,392.9 654.7,395.2 655.0,398.0C655.7,404.4 656.0,418.7 656.4,430.0C656.9,442.6 657.3,457.6 657.8,470.0C658.2,480.7 658.5,490.0 659.0,500.0C659.5,510.0 660.3,519.9 661.0,530.0C661.7,540.4 661.1,552.8 663.2,561.5C664.8,568.0 666.2,573.8 670.2,577.9C674.5,582.3 682.7,583.4 688.9,586.2" stroke="#6e50aa" stroke-width="1.80" fill="none" stroke-linejoin="round" stroke-linecap="round"/>
<path d="M350.0,476.2C351.7,472.8 353.1,469.3 355.0,466.0C357.0,462.7 359.0,459.3 361.7,456.4C364.6,453.3 368.3,450.0 372.0,448.0C375.4,446.2 379.2,444.8 382.7,444.7C385.9,444.6 389.3,445.5 392.0,447.0C394.8,448.5 396.8,451.3 399.1,454.0C401.8,457.2 404.4,461.2 407.0,465.0C409.8,469.0 412.3,473.2 415.4,477.4C418.9,482.0 422.5,487.6 427.1,491.4C431.8,495.2 436.8,499.1 443.5,500.3C452.8,502.0 466.8,495.7 478.5,495.6C490.2,495.5 502.8,498.5 513.6,499.6C522.8,500.5 530.7,501.4 539.3,501.9C547.9,502.4 556.6,502.0 565.0,502.6C573.0,503.2 580.8,503.1 588.4,505.4C596.4,507.8 604.2,512.5 611.8,517.1C619.8,521.9 627.3,528.1 635.1,533.5C642.9,539.0 651.6,544.7 658.5,549.8C664.2,554.0 670.2,562.4 673.7,561.5C676.5,560.8 677.6,555.1 679.0,550.0C681.5,540.8 682.0,523.3 683.0,510.0C684.0,496.7 684.5,483.3 685.1,470.0C685.6,456.7 685.9,442.4 686.3,430.0C686.6,419.3 686.0,404.8 687.1,400.0C687.5,398.4 688.1,398.0 688.5,397.0C688.9,396.1 689.2,394.4 689.6,394.4C690.0,394.4 690.4,396.6 691.0,397.5C691.5,398.4 692.4,398.6 692.9,400.0C694.4,404.4 693.4,419.3 693.6,430.0C693.9,442.4 693.9,456.7 694.3,470.0C694.7,483.3 695.2,498.4 696.0,510.0C696.6,518.9 697.1,524.8 698.2,533.5C699.6,544.5 699.6,562.3 704.1,570.8C707.2,576.5 713.1,579.9 716.9,582.5C719.4,584.3 721.6,584.8 723.9,586.0" stroke="#a48e48" stroke-width="1.80" fill="none" stroke-linejoin="round" stroke-linecap="round"/>
<line x1="394.0" y1="335.4" x2="408.1" y2="335.4" stroke="#a83848" stroke-width="2.3"/>
<text x="410.2" y="339.5" font-family='"Liberation Sans", sans-serif' font-size="11.6" font-weight="normal" text-anchor="start" fill="#333" textLength="62.5" lengthAdjust="spacingAndGlyphs" stroke="#333" stroke-width="0.30">1538.57 nm</text>
<line x1="495.9" y1="335.4" x2="510.0" y2="335.4" stroke="#111111" stroke-width="2.3"/>
<text x="511.4" y="339.5" font-family='"Liberation Sans", sans-serif' font-size="11.6" font-weight="normal" text-anchor="start" fill="#333" textLength="62.5" lengthAdjust="spacingAndGlyphs" stroke="#333" stroke-width="0.30">1540.73 nm</text>
<line x1="597.4" y1="335.4" x2="610.6" y2="335.4" stroke="#86a467" stroke-width="2.3"/>
<text x="612.2" y="339.5" font-family='"Liberation Sans", sans-serif' font-size="11.6" font-weight="normal" text-anchor="start" fill="#333" textLength="62.5" lengthAdjust="spacingAndGlyphs" stroke="#333" stroke-width="0.30">1545.39 nm</text>
<line x1="394.0" y1="354.5" x2="408.1" y2="354.5" stroke="#e8f030" stroke-width="2.3"/>
<text x="410.2" y="358.6" font-family='"Liberation Sans", sans-serif' font-size="11.6" font-weight="normal" text-anchor="start" fill="#333" textLength="62.5" lengthAdjust="spacingAndGlyphs" stroke="#333" stroke-width="0.30">1550.48 nm</text>
<line x1="495.9" y1="354.5" x2="510.0" y2="354.5" stroke="#df45cf" stroke-width="2.3"/>
<text x="511.4" y="358.6" font-family='"Liberation Sans", sans-serif' font-size="11.6" font-weight="normal" text-anchor="start" fill="#333" textLength="62.5" lengthAdjust="spacingAndGlyphs" stroke="#333" stroke-width="0.30">1555.61 nm</text>
<line x1="597.4" y1="354.5" x2="610.6" y2="354.5" stroke="#8a4a30" stroke-width="2.3"/>
<text x="612.2" y="358.6" font-family='"Liberation Sans", sans-serif' font-size="11.6" font-weight="normal" text-anchor="start" fill="#333" textLength="62.5" lengthAdjust="spacingAndGlyphs" stroke="#333" stroke-width="0.30">1560.42 nm</text>
<line x1="394.0" y1="373.3" x2="408.1" y2="373.3" stroke="#1f8a5e" stroke-width="2.3"/>
<text x="410.2" y="377.4" font-family='"Liberation Sans", sans-serif' font-size="11.6" font-weight="normal" text-anchor="start" fill="#333" textLength="62.5" lengthAdjust="spacingAndGlyphs" stroke="#333" stroke-width="0.30">1565.23 nm</text>
<line x1="495.9" y1="373.3" x2="510.0" y2="373.3" stroke="#6f55a0" stroke-width="2.3"/>
<text x="511.4" y="377.4" font-family='"Liberation Sans", sans-serif' font-size="11.6" font-weight="normal" text-anchor="start" fill="#333" textLength="58.2" lengthAdjust="spacingAndGlyphs" stroke="#333" stroke-width="0.30">1570.37nm</text>
<line x1="597.4" y1="373.3" x2="610.6" y2="373.3" stroke="#a49a38" stroke-width="2.3"/>
<text x="612.2" y="377.4" font-family='"Liberation Sans", sans-serif' font-size="11.6" font-weight="normal" text-anchor="start" fill="#333" textLength="62.5" lengthAdjust="spacingAndGlyphs" stroke="#333" stroke-width="0.30">1575.16 nm</text>
<text x="354.2" y="347.9" font-family='"Liberation Serif", serif' font-size="22.5" font-weight="bold" text-anchor="start" fill="#111" textLength="25.5" lengthAdjust="spacingAndGlyphs">(c)</text>
<text x="538.7" y="631.2" font-family='"Liberation Serif", serif' font-size="15.5" font-weight="bold" text-anchor="middle" fill="#111" textLength="117.6" lengthAdjust="spacingAndGlyphs" stroke="#111" stroke-width="0.25">Wavelength (nm)</text>
<g transform="translate(307.2,453.4) rotate(-90)">
<text x="0.0" y="0.0" font-family='"Liberation Serif", serif' font-size="13.2" font-weight="bold" text-anchor="middle" fill="#111" textLength="144.0" lengthAdjust="spacingAndGlyphs" stroke="#111" stroke-width="0.25">Output Power (dBm)</text>
</g>
</svg>
</body></html>
